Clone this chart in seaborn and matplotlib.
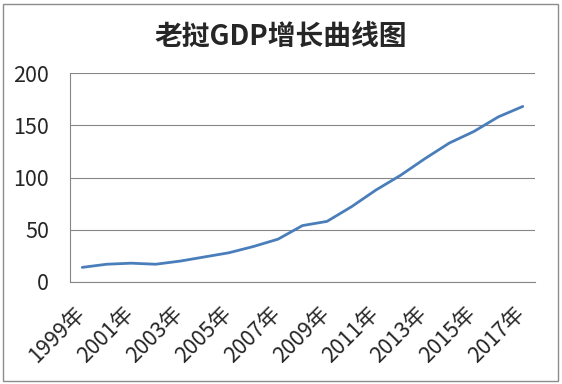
"""Laos GDP growth line chart (Excel-style)."""

import matplotlib
matplotlib.use("Agg")
import matplotlib.pyplot as plt
from matplotlib.patches import Rectangle
from matplotlib.ticker import FixedLocator
from matplotlib.transforms import ScaledTranslation
import pandas as pd
import seaborn as sns

# Data
years = [f"{y}年" for y in range(1999, 2018)]
gdp = [14, 17, 18, 17, 20, 24, 28, 34, 41, 54, 58, 72, 88, 102, 118, 133, 144, 158, 168]
y_ticks = [0, 50, 100, 150, 200]

LINE_COLOR = "#4A7EBB"
GRID_COLOR = "#868686"

sns.set_style("white")
plt.rcParams["font.family"] = ["Noto Sans CJK SC", "DejaVu Sans"]

df = pd.DataFrame({"year": years, "gdp": gdp})

fig = plt.figure(figsize=(5.62, 3.84), dpi=100)
ax = fig.add_axes([70 / 562, 102 / 384, 465 / 562, 209 / 384])

sns.lineplot(data=df, x="year", y="gdp", ax=ax, color=LINE_COLOR, linewidth=2.0)

ax.set_ylim(0, 200)
ax.set_xlim(-0.5, len(years) - 0.5)
ax.set_yticks(y_ticks)
ax.set_yticklabels([str(t) for t in y_ticks], fontsize=15.5)

# labels every other year (drawn by hand so they can sit a bit left/down),
# tick marks between categories
label_pos = list(range(0, len(years), 2))
ax.set_xticks(label_pos)
ax.set_xticklabels([])
label_trans = ax.get_xaxis_transform() + ScaledTranslation(-0.01, -0.28, fig.dpi_scale_trans)
for i in label_pos:
    ax.text(i, 0, years[i], transform=label_trans, fontsize=15.5, rotation=45,
            ha="right", va="center", rotation_mode="anchor")
ax.xaxis.set_minor_locator(FixedLocator([i - 0.5 for i in range(len(years) + 1)]))
ax.tick_params(axis="x", which="major", length=0)
ax.tick_params(axis="x", which="minor", length=6, width=0.8, color=GRID_COLOR, direction="out")
ax.tick_params(axis="y", length=6, width=0.8, color=GRID_COLOR, direction="out", pad=9)

ax.yaxis.grid(True, color=GRID_COLOR, linewidth=0.8)
ax.set_axisbelow(True)
for side in ("top", "right"):
    ax.spines[side].set_visible(False)
for side in ("left", "bottom"):
    ax.spines[side].set_color(GRID_COLOR)
    ax.spines[side].set_linewidth(0.8)
ax.set_xlabel("")
ax.set_ylabel("")

fig.text(0.5, 1 - 37 / 384, "老挝GDP增长曲线图", ha="center", va="center",
         fontsize=20, fontweight="bold")

# chart area border
fig.patches.append(Rectangle((3 / 562, 3 / 384), 555 / 562, 377 / 384,
                             transform=fig.transFigure, fill=False,
                             edgecolor="#8C8C8C", linewidth=1.0))

plt.savefig("out.png", dpi=100)
plt.close()
